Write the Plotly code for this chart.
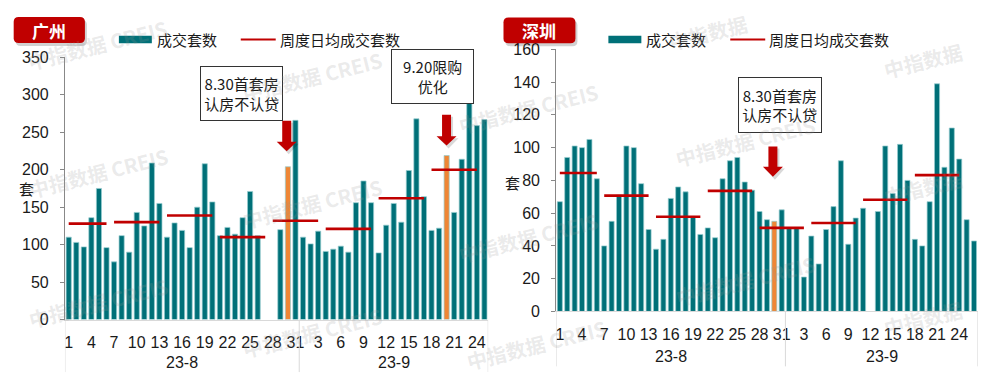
import plotly.graph_objects as go

W, H = 989, 383


def px(x):
    return x / W


def py(y):
    return 1 - y / H


# ---------------- data ----------------
gz_aug = [110, 103, 97, 136, 175, 96, 77, 112, 90, 143, 125, 209, 155, 110, 129, 119,
          96, 150, 208, 157, 112, 123, 114, 136, 171, 112, None, None, 120, 204, 266]
gz_sep = [110, 101, 118, 91, 94, 98, 90, 156, 185, 156, 89, 126, 155, 130, 199, 268,
          164, 119, 122, 219, 143, 214, 300, 259, 267]
sz_aug = [67, 94, 101, 100, 105, 81, 40, 55, 71, 101, 100, 78, 50, 38, 44, 69, 76, 73,
          58, 47, 51, 45, 81, 92, 94, 79, 74, 61, 56, 55, 62]
sz_sep = [51, 51, 21, 46, 29, 50, 64, 92, 41, 57, 63, None, 61, 101, 72, 102, 80, 44,
          40, 67, 139, 88, 112, 93, 56, 43]

week_start = ["8-1", "8-7", "8-14", "8-21", "8-28", "9-4", "9-11", "9-18"]
week_end = ["8-6", "8-13", "8-20", "8-27", "9-3", "9-10", "9-17", "9-24"]
gz_week_avg = [128, 130, 139, 110, 132, 121, 162, 200]
sz_week_avg = [84.5, 70.7, 57.8, 73.6, 51, 54, 68.2, 83.2]

gz_highlight = ["8-30", "9-20"]
sz_highlight = ["8-30"]

aug_tick_days = [1, 4, 7, 10, 13, 16, 19, 22, 25, 28, 31]
sep_tick_days = [3, 6, 9, 12, 15, 18, 21, 24]
month_labels = ["23-8", "23-9"]

BAR = "#007078"
HL = "#EF8635"
RED = "#C00000"
FONT = "Liberation Sans, Arial, Noto Sans CJK SC"
CJK = "Noto Sans CJK SC"


def cats(aug, sep):
    return [f"8-{d}" for d in range(1, len(aug) + 1)] + [f"9-{d}" for d in range(1, len(sep) + 1)]


tickvals = [f"8-{d}" for d in aug_tick_days] + [f"9-{d}" for d in sep_tick_days]
ticktext = [str(d) for d in aug_tick_days + sep_tick_days]

fig = go.Figure()
shapes = []
annots = []

panels = [
    dict(name="广州", aug=gz_aug, sep=gz_sep, wk=gz_week_avg, hl=gz_highlight,
         xa="x", ya="y", xd=(64, 487.7), yd=(326, 51.7), rng=350, dt=50,
         tag=(12.7, 9.5, 84, 36.7), ytitle=(26, 189), mlab_y=371, div_end=381,
         leg=(118, 33)),
    dict(name="深圳", aug=sz_aug, sep=sz_sep, wk=sz_week_avg, hl=sz_highlight,
         xa="x2", ya="y2", xd=(555.7, 977.7), yd=(317.5, 43.3), rng=160, dt=20,
         tag=(503, 10, 575, 37), ytitle=(512, 183), mlab_y=365, div_end=375,
         leg=(608, 33)),
]


def rounded(x0, y0, x1, y1, r):
    return (f"M {px(x0 + r)} {py(y0)} L {px(x1 - r)} {py(y0)} Q {px(x1)} {py(y0)} {px(x1)} {py(y0 + r)} "
            f"L {px(x1)} {py(y1 - r)} Q {px(x1)} {py(y1)} {px(x1 - r)} {py(y1)} "
            f"L {px(x0 + r)} {py(y1)} Q {px(x0)} {py(y1)} {px(x0)} {py(y1 - r)} "
            f"L {px(x0)} {py(y0 + r)} Q {px(x0)} {py(y0)} {px(x0 + r)} {py(y0)} Z")


layout_axes = {}
for i, p in enumerate(panels):
    x = cats(p["aug"], p["sep"])
    y = p["aug"] + p["sep"]
    colors = [HL if c in p["hl"] else BAR for c in x]
    fig.add_trace(go.Bar(x=x, y=y, marker=dict(color=colors, line=dict(color="rgba(150,205,208,0.9)", width=0.8)),
                         xaxis=p["xa"], yaxis=p["ya"], showlegend=False, name="成交套数"))
    lx, ly = [], []
    for s, e, v in zip(week_start, week_end, p["wk"]):
        lx += [s, e, None]
        ly += [v, v, None]
    fig.add_trace(go.Scatter(x=lx, y=ly, mode="lines", line=dict(color=RED, width=2.6),
                             xaxis=p["xa"], yaxis=p["ya"], showlegend=False, name="周度日均成交套数"))
    n = len(x)
    n_aug = len(p["aug"])
    sfx = "" if i == 0 else "2"
    layout_axes["xaxis" + sfx] = dict(
        domain=[px(p["xd"][0]), px(p["xd"][1])], anchor="y" + sfx, type="category",
        range=[-0.5, n - 0.5], tickmode="array", tickvals=tickvals, ticktext=ticktext,
        showline=True, linecolor="#D9D9D9", linewidth=1, ticks="", showgrid=False,
        tickfont=dict(size=16, color="#1a1a1a", family=FONT), ticklabelstandoff=8,
        zeroline=False)
    layout_axes["yaxis" + sfx] = dict(
        domain=[py(p["yd"][0]), py(p["yd"][1])], anchor="x" + sfx, range=[0, p["rng"]],
        dtick=p["dt"], showline=True, linecolor="#888888", linewidth=1, ticks="outside",
        ticklen=4, tickcolor="#888888", showgrid=False, zeroline=False,
        tickfont=dict(size=16, color="#1a1a1a", family=FONT), ticklabelstandoff=8)
    # month dividers & labels
    for xv in [-0.5, n_aug - 0.5, n - 0.5]:
        shapes.append(dict(type="line", xref=p["xa"], yref="paper", x0=xv, x1=xv,
                           y0=py(p["yd"][0]), y1=py(p["div_end"]), line=dict(color="#D9D9D9", width=1)))
    centers = [(-0.5 + n_aug - 0.5) / 2, (n_aug - 0.5 + n - 0.5) / 2]
    for c, lab in zip(centers, month_labels):
        annots.append(dict(x=c, xref=p["xa"], y=py(p["mlab_y"]), yref="paper", text=lab,
                           showarrow=False, font=dict(size=16, color="#1a1a1a", family=FONT),
                           xanchor="center", yanchor="middle"))
    # y title
    annots.append(dict(x=px(p["ytitle"][0]), y=py(p["ytitle"][1]), xref="paper", yref="paper",
                       text="套", showarrow=False, font=dict(size=15, color="#1a1a1a", family=CJK),
                       xanchor="center", yanchor="middle"))
    # header tag
    tx0, ty0, tx1, ty1 = p["tag"]
    shapes.append(dict(type="path", path=rounded(tx0 + 2, ty0 + 3, tx1 + 2, ty1 + 3, 5), xref="paper", yref="paper",
                       fillcolor="rgba(0,0,0,0.18)", line=dict(width=0)))
    shapes.append(dict(type="path", path=rounded(tx0, ty0, tx1, ty1, 5), xref="paper", yref="paper",
                       fillcolor=RED, line=dict(width=0)))
    annots.append(dict(x=px((tx0 + tx1) / 2), y=py((ty0 + ty1) / 2), xref="paper", yref="paper",
                       text="<b>" + p["name"] + "</b>", showarrow=False,
                       font=dict(size=17, color="white", family=CJK), xanchor="center", yanchor="middle"))
    # legend
    lx0, lyc = p["leg"]
    shapes.append(dict(type="rect", xref="paper", yref="paper", x0=px(lx0), x1=px(lx0 + 33),
                       y0=py(lyc + 4), y1=py(lyc - 4), fillcolor=BAR, line=dict(width=0)))
    annots.append(dict(x=px(lx0 + 36), y=py(lyc), xref="paper", yref="paper", text="成交套数",
                       showarrow=False, font=dict(size=15, color="#1a1a1a", family=CJK),
                       xanchor="left", yanchor="middle"))
    shapes.append(dict(type="line", xref="paper", yref="paper", x0=px(lx0 + 122), x1=px(lx0 + 157),
                       y0=py(lyc), y1=py(lyc), line=dict(color=RED, width=2)))
    annots.append(dict(x=px(lx0 + 159), y=py(lyc), xref="paper", yref="paper", text="周度日均成交套数",
                       showarrow=False, font=dict(size=15, color="#1a1a1a", family=CJK),
                       xanchor="left", yanchor="middle"))


def box(x0, y0, x1, y1, text):
    annots.append(dict(x=px((x0 + x1) / 2), y=py((y0 + y1) / 2), xref="paper", yref="paper",
                       text=text, showarrow=False, bgcolor="white", bordercolor="#333333",
                       borderwidth=1, borderpad=0, width=x1 - x0 - 2, height=y1 - y0 - 2,
                       font=dict(size=15, color="#1a1a1a", family=CJK), align="center",
                       xanchor="center", yanchor="middle"))


def arrow(xc, ytop, yhead, ytip, sw=4.5, hw=10):
    path = (f"M {px(xc - sw)} {py(ytop)} L {px(xc + sw)} {py(ytop)} L {px(xc + sw)} {py(yhead)} "
            f"L {px(xc + hw)} {py(yhead)} L {px(xc)} {py(ytip)} L {px(xc - hw)} {py(yhead)} "
            f"L {px(xc - sw)} {py(yhead)} Z")
    path_s = (f"M {px(xc - sw + 2)} {py(ytop + 2)} L {px(xc + sw + 2)} {py(ytop + 2)} L {px(xc + sw + 2)} {py(yhead + 2)} "
              f"L {px(xc + hw + 2)} {py(yhead + 2)} L {px(xc + 2)} {py(ytip + 3)} L {px(xc - hw + 2)} {py(yhead + 2)} "
              f"L {px(xc - sw + 2)} {py(yhead + 2)} Z")
    shapes.append(dict(type="path", path=path_s, xref="paper", yref="paper",
                       fillcolor="rgba(0,0,0,0.15)", line=dict(width=0)))
    shapes.append(dict(type="path", path=path, xref="paper", yref="paper",
                       fillcolor=RED, line=dict(width=0)))


box(199, 62, 282.3, 116.7, "8.30首套房<br>认房不认贷")
box(390, 44.3, 473.3, 99.3, "9.20限购<br>优化")
box(738, 73, 821.7, 129, "8.30首套房<br>认房不认贷")
arrow(286, 118, 140, 150)
arrow(446, 111.7, 134.3, 144)
arrow(772.7, 145, 166, 176.7)

# watermarks
wm_full = [(97, 38), (98, 172), (98, 308), (312, 72), (312, 205), (312, 340),
           (528, 105), (528, 240), (536, 352), (745, 140), (745, 285)]
wm_short = [(708, 26), (923, 55), (923, 188), (923, 325)]
for (wx, wy) in wm_full:
    annots.append(dict(x=px(wx), y=py(wy), xref="paper", yref="paper", text="<b>中指数据 CREIS</b>",
                       showarrow=False, textangle=-14,
                       font=dict(size=20, color="rgba(150,150,150,0.2)", family=CJK),
                       xanchor="center", yanchor="middle"))
for (wx, wy) in wm_short:
    annots.append(dict(x=px(wx), y=py(wy), xref="paper", yref="paper", text="<b>中指数据</b>",
                       showarrow=False, textangle=-14,
                       font=dict(size=20, color="rgba(150,150,150,0.2)", family=CJK),
                       xanchor="center", yanchor="middle"))

fig.update_layout(
    width=W, height=H, margin=dict(l=0, r=0, t=0, b=0),
    paper_bgcolor="white", plot_bgcolor="white", bargap=0.32,
    font=dict(family=FONT, size=15, color="#1a1a1a"),
    shapes=shapes, annotations=annots, showlegend=False,
    **layout_axes,
)

post = (
    "var gd=document.getElementById('{plot_id}');"
    "var h=document.documentElement;h.style.margin='0';h.style.padding='0';h.style.overflow='hidden';"
    "document.body.style.margin='0';document.body.style.padding='0';document.body.style.overflow='hidden';"
    "gd.style.position='fixed';gd.style.left='0px';gd.style.top='0px';"
)

fig.write_html("out.html", config={"displayModeBar": False}, post_script=post)
